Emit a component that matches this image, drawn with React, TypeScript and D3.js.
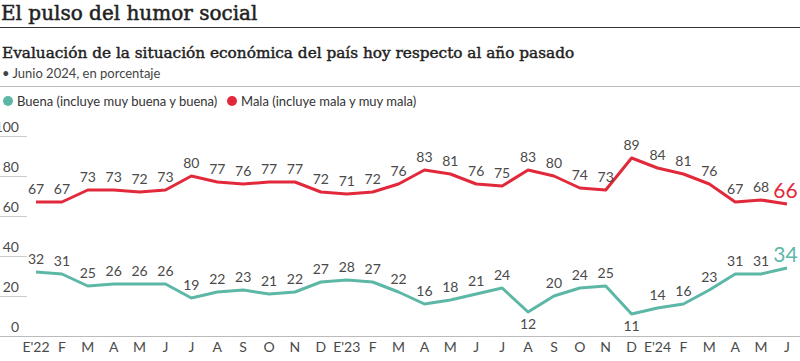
import React from "react";
import * as d3 from "d3";

const months = ["E'22","F","M","A","M","J","J","A","S","O","N","D","E'23","F","M","A","M","J","J","A","S","O","N","D","E'24","F","M","A","M","J"];
const mala = [67,67,73,73,72,73,80,77,76,77,77,72,71,72,76,83,81,76,75,83,80,74,73,89,84,81,76,67,68,66];
const buena = [32,31,25,26,26,26,19,22,23,21,22,27,28,27,22,16,18,21,24,12,20,24,25,11,14,16,23,31,31,34];
const yTicks = [0,20,40,60,80,100];
const belowLabels = [12, 11];

const RED = "#e2293b";
const TEAL = "#5db7a6";
const LABEL = "#4a4a4a";
const SANS = "Lato, 'Noto Sans', sans-serif";
const SERIF = "'DejaVu Serif', 'Liberation Serif', serif";

export default function App() {
  const W = 800, H = 361;
  const x = d3.scalePoint<number>().domain(d3.range(months.length)).range([36, 787]);
  const y = d3.scaleLinear().domain([0, 100]).range([336, 136]);
  const line = d3.line<number>().x((_, i) => x(i)!).y(d => y(d)).curve(d3.curveLinear);
  const n = months.length;

  const labels = (data: number[], color: string, isBuena: boolean) =>
    data.map((v, i) => {
      const last = i === n - 1;
      const below = isBuena && belowLabels.includes(v) && !last;
      if (last) {
        return (
          <text key={i} x={x(i)! - 1.5} y={y(v) - 6} textAnchor="middle" fontSize={21} fill={color} fontFamily={SANS}>{v}</text>
        );
      }
      return (
        <text key={i} x={x(i)!} y={below ? y(v) + 17 : y(v) - 8} textAnchor="middle" fontSize={14} fill={LABEL} fontFamily={SANS}>{v}</text>
      );
    });

  return (
    <svg width={W} height={H} style={{ position: "absolute", left: 0, top: 0, background: "#fff" }}>
      <text x={1} y={20} fontFamily={SERIF} fontSize={20} fill="#222" stroke="#222" strokeWidth={0.5}>El pulso del humor social</text>
      <line x1={0} x2={W} y1={27.5} y2={27.5} stroke="#333" strokeWidth={1} />
      <text x={2} y={58} fontFamily={SERIF} fontSize={15.3} fill="#222" stroke="#222" strokeWidth={0.45}>Evaluación de la situación económica del país hoy respecto al año pasado</text>
      <text x={2} y={78} fontFamily={SANS} fontSize={13} fill="#444">• Junio 2024, en porcentaje</text>
      <line x1={0} x2={W} y1={86.5} y2={86.5} stroke="#bbb" strokeWidth={1} />

      <circle cx={8} cy={101} r={5} fill={TEAL} />
      <text x={17} y={105.5} fontFamily={SANS} fontSize={13} fill="#333">Buena (incluye muy buena y buena)</text>
      <circle cx={232} cy={101} r={5} fill={RED} />
      <text x={241} y={105.5} fontFamily={SANS} fontSize={13} fill="#333">Mala (incluye mala y muy mala)</text>

      {yTicks.map(t => (
        <g key={t}>
          {t > 0 && <line x1={0} x2={27} y1={y(t) + 0.5} y2={y(t) + 0.5} stroke="#ccc" strokeWidth={1} />}
          <text x={19} y={y(t) - 4} textAnchor="end" fontFamily={SANS} fontSize={14} fill={LABEL}>{t}</text>
        </g>
      ))}
      <line x1={0} x2={W} y1={y(0) + 0.5} y2={y(0) + 0.5} stroke="#bbb" strokeWidth={1} />

      {months.map((m, i) => (
        <text key={i} x={x(i)!} y={352} textAnchor="middle" fontFamily={SANS} fontSize={14} fill={LABEL}>{m}</text>
      ))}

      <path d={line(mala)!} fill="none" stroke={RED} strokeWidth={3} strokeLinejoin="round" />
      <path d={line(buena)!} fill="none" stroke={TEAL} strokeWidth={3} strokeLinejoin="round" />
      {labels(mala, RED, false)}
      {labels(buena, TEAL, true)}
    </svg>
  );
}
